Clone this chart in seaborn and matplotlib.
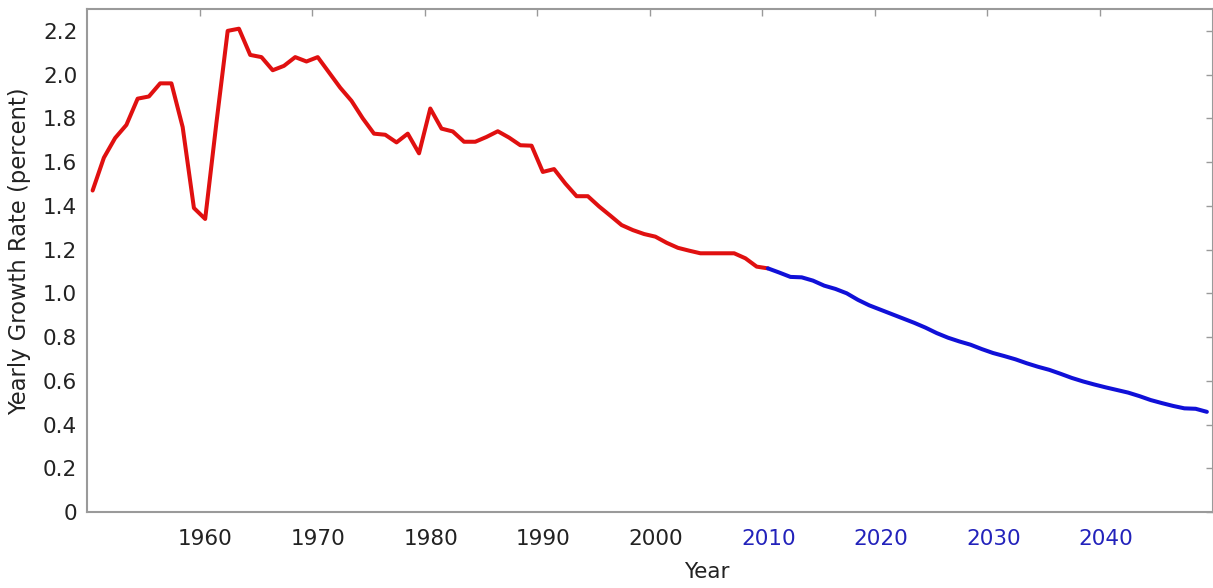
import numpy as np
import pandas as pd
import matplotlib
matplotlib.use("Agg")
import matplotlib.pyplot as plt
import matplotlib.transforms as mtransforms
import seaborn as sns

# Yearly world population growth rate (percent)
years_hist = list(range(1950, 2011))
rate_hist = [1.47, 1.62, 1.71, 1.77, 1.89, 1.90, 1.96, 1.96, 1.76, 1.39,
             1.34, 1.78, 2.20, 2.21, 2.09, 2.08, 2.02, 2.04, 2.08, 2.06,
             2.08, 2.01, 1.94, 1.88, 1.80, 1.73, 1.725, 1.69, 1.73, 1.64,
             1.845, 1.753, 1.74, 1.693, 1.693, 1.715, 1.741, 1.712, 1.677, 1.675,
             1.555, 1.568, 1.502, 1.444, 1.444, 1.397, 1.355, 1.312, 1.289, 1.271,
             1.259, 1.231, 1.208, 1.195, 1.183, 1.183, 1.183, 1.183, 1.160, 1.122,
             1.114]

years_proj = list(range(2010, 2050))
rate_proj = [1.114, 1.095, 1.075, 1.073, 1.058, 1.035, 1.020, 1.000, 0.970, 0.945,
             0.925, 0.905, 0.885, 0.865, 0.843, 0.818, 0.797, 0.780, 0.765, 0.745,
             0.727, 0.713, 0.698, 0.680, 0.664, 0.650, 0.632, 0.613, 0.597, 0.583,
             0.570, 0.558, 0.546, 0.530, 0.512, 0.498, 0.485, 0.474, 0.472, 0.458]

x_ticks = [1960, 1970, 1980, 1990, 2000, 2010, 2020, 2030, 2040]
y_ticks = [0, 0.2, 0.4, 0.6, 0.8, 1.0, 1.2, 1.4, 1.6, 1.8, 2.0, 2.2]
y_tick_labels = ["0", "0.2", "0.4", "0.6", "0.8", "1.0", "1.2", "1.4", "1.6", "1.8", "2.0", "2.2"]

RED = "#e01010"
BLUE = "#1010d8"
GREY = "#9a9a9a"
TXT = "#222222"

sns.set_style("white")
plt.rcParams['font.family'] = ['DejaVu Sans']

# rates are mid-year values
df_hist = pd.DataFrame({"year": np.array(years_hist) + 0.5, "rate": rate_hist})
df_proj = pd.DataFrame({"year": np.array(years_proj) + 0.5, "rate": rate_proj})

fig = plt.figure(figsize=(12.13, 5.88), dpi=100)
ax = fig.add_axes([87 / 1213, 76 / 588, 1125.5 / 1213, 503 / 588])

sns.lineplot(data=df_hist, x="year", y="rate", color=RED, linewidth=2.9, ax=ax)
sns.lineplot(data=df_proj, x="year", y="rate", color=BLUE, linewidth=2.9, ax=ax)

ax.set_xlim(1950, 2050)
ax.set_ylim(0, 2.3)
ax.set_xticks(x_ticks)
ax.set_xticklabels([str(y) for y in x_ticks])
ax.set_yticks(y_ticks)
ax.set_yticklabels(y_tick_labels)

ax.tick_params(axis="both", direction="in", length=5, width=1, color=GREY,
               labelsize=15.5, labelcolor=TXT, top=True, right=True)
ax.tick_params(axis="x", pad=12)
ax.tick_params(axis="y", pad=7)

# x tick labels sit a little right of their ticks in the original
shift = mtransforms.ScaledTranslation(6 / 100, 0, fig.dpi_scale_trans)
for lbl, yr in zip(ax.get_xticklabels(), x_ticks):
    lbl.set_color("#2222bb" if yr >= 2010 else TXT)
    lbl.set_transform(lbl.get_transform() + shift)

for sp in ax.spines.values():
    sp.set_color(GREY)
    sp.set_linewidth(1.5)

ax.set_xlabel("Year", fontsize=15.5, color=TXT)
ax.set_ylabel("Yearly Growth Rate (percent)", fontsize=16.3, color=TXT)
ax.xaxis.set_label_coords(0.551, -0.1)
ax.yaxis.set_label_coords(-0.05, 0.518)

fig.savefig("out.png", dpi=100)
